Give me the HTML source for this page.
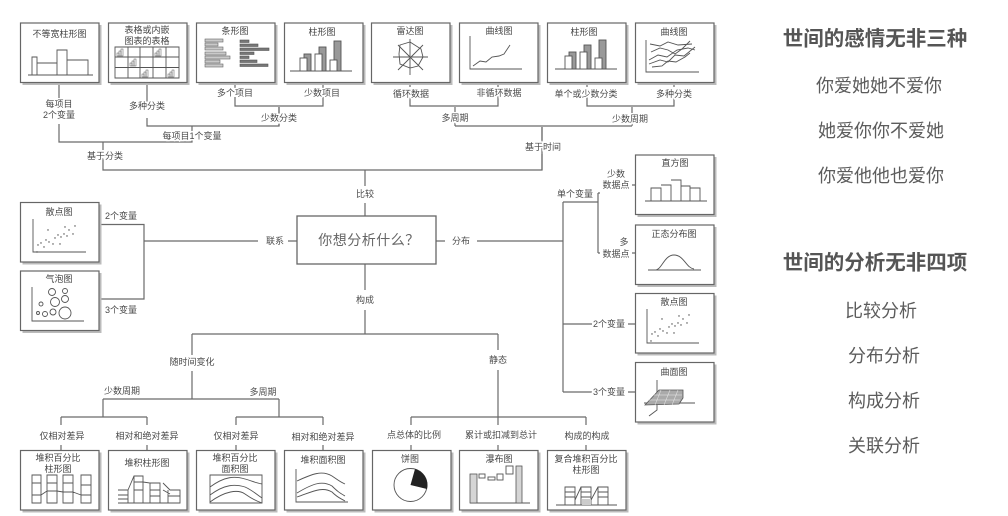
<!DOCTYPE html>
<html lang="zh"><head><meta charset="utf-8"><title>图表选择</title>
<style>
html,body{margin:0;padding:0;background:#fff;width:1008px;height:516px;overflow:hidden}
svg{display:block;position:absolute;left:0;top:0;filter:blur(.3px)}
text{font-family:"Liberation Sans","Noto Sans CJK SC",sans-serif;text-anchor:middle;dominant-baseline:central;fill:#555}
.l{font-size:9px;fill:#4a4a4a;paint-order:stroke;stroke:#fff;stroke-width:3px}
.t{font-size:9px;fill:#444}
.c{fill:none;stroke:#6a6a6a;stroke-width:1.2}
.b{fill:#fff;stroke:#666;stroke-width:1.2}
.s{fill:#bbb}
.i{fill:none;stroke:#555;stroke-width:.9}
.m{fill:none;stroke:#555;stroke-width:.5}
.w{fill:#fff;stroke:#555;stroke-width:.9}
.d{fill:#999;stroke:#555;stroke-width:.9}
.h{font-size:20.500px;font-weight:700;fill:#555}
.r{font-size:18px;fill:#5c5c5c}
</style></head><body>
<svg width="1008" height="516" viewBox="0 0 1008 516" xmlns="http://www.w3.org/2000/svg">
<defs>
<g id="box"><rect x="2.500" y="2.500" width="79" height="60" class="s"/><rect x="0.500" y="0.500" width="78.500" height="59.500" class="b"/></g>
<g id="sc" fill="#444"><circle cx="3" cy="28" r=".7"/><circle cx="4" cy="21" r=".7"/><circle cx="7" cy="19" r=".7"/><circle cx="10" cy="23" r=".7"/><circle cx="12" cy="16" r=".7"/><circle cx="14" cy="6" r=".7"/><circle cx="15" cy="18" r=".7"/><circle cx="19" cy="20" r=".7"/><circle cx="21" cy="14" r=".7"/><circle cx="24" cy="11" r=".7"/><circle cx="26" cy="20" r=".7"/><circle cx="27" cy="13" r=".7"/><circle cx="30" cy="10" r=".7"/><circle cx="31" cy="3" r=".7"/><circle cx="33" cy="12" r=".7"/><circle cx="35" cy="6" r=".7"/><circle cx="39" cy="10" r=".7"/><circle cx="41" cy="2" r=".7"/></g>
<g id="mini"><rect x="0" y="4" width="2" height="3" class="m"/><rect x="2" y="2" width="2" height="5" class="m"/><rect x="4" y="0" width="2" height="7" class="m"/></g>
</defs>

<!-- connectors -->
<g class="c">
<path d="M59 82V100M59 124V142H192V126M147 82V105M147 118V126H279V107M235 82V88M235 97V106H323V97M323 88V82"/>
<path d="M103 142V150M103 158V170H542V127M455 126H632M455 126V107M410 82V87M410 96V106H498V96M498 87V82M632 126V107M587 82V87M587 96V106H674V96M674 87V82M279 126V107"/>
<path d="M542 127V140M542 154V170M365 170V186M365 203V216"/>
<path d="M99 224.500H144V299H99M144 241H258M288 241H297"/>
<path d="M436 241H445M477 241H563M563 202V392M563 202H598M598 193V253M598 193H600M598 253H600M563 324H592M628 324H635M563 392H592M628 392H635M632 185H635M632 253H635"/>
<path d="M365 264V290M365 310V334M192 334H498M192 334V355M192 371V399M103 399H279M103 399V417M61 417H147M61 417V425M147 417V425M279 399V417M236 417H323M236 417V425M323 417V425"/>
<path d="M498 334V350M498 370V417M411 417H586M411 417V425M586 417V425M498 417V425M61 445V450M147 445V450M236 445V450M323 445V450M411 445V450M498 445V450M586 445V450"/>
</g>

<!-- boxes -->
<use href="#box" x="20" y="22.500"/><use href="#box" x="108" y="22.500"/><use href="#box" x="196" y="22.500"/><use href="#box" x="284" y="22.500"/>
<use href="#box" x="371" y="22.500"/><use href="#box" x="459" y="22.500"/><use href="#box" x="547" y="22.500"/><use href="#box" x="635" y="22.500"/>
<use href="#box" x="635" y="154.500"/><use href="#box" x="635" y="224.500"/><use href="#box" x="635" y="293"/><use href="#box" x="635" y="362"/>
<use href="#box" x="20" y="202"/><use href="#box" x="20" y="270.500"/>
<use href="#box" x="20" y="450"/><use href="#box" x="108" y="450"/><use href="#box" x="196" y="450"/><use href="#box" x="284" y="450"/><use href="#box" x="372" y="450"/><use href="#box" x="459" y="450"/><use href="#box" x="547" y="450"/>
<rect x="297" y="216" width="139" height="48" fill="#fff" stroke="#666" stroke-width="1.300"/>

<!-- box1 -->
<g class="i"><path d="M28 75H93M32 75V57H37V75M37 63H57M57 75V50H67V75M67 60H88V75"/></g>
<!-- box2 -->
<g class="i"><path d="M115 47H179V78H115ZM115 57H179M115 67.500H179M128 47V78M140 47V78M153 47V78M166 47V78"/></g>
<use href="#mini" x="117" y="49"/><use href="#mini" x="155" y="49"/><use href="#mini" x="130" y="59"/><use href="#mini" x="142" y="70"/><use href="#mini" x="168" y="70"/>
<!-- box3 -->
<g fill="#c9c9c9" stroke="#666" stroke-width=".6"><rect x="205" y="39" width="18" height="3"/><rect x="205" y="43" width="13" height="3"/><rect x="205" y="47" width="18" height="3"/><rect x="205" y="52" width="21" height="3"/><rect x="205" y="56" width="25" height="3"/><rect x="205" y="60" width="15" height="3"/><rect x="205" y="64" width="18" height="3"/></g>
<g fill="#777" stroke="#555" stroke-width=".6"><rect x="240" y="40" width="9" height="2.500"/><rect x="240" y="44" width="18" height="2.500"/><rect x="240" y="48" width="29" height="2.500"/><rect x="240" y="52" width="14" height="2.500"/><rect x="240" y="56" width="9" height="2.500"/><rect x="240" y="60" width="17" height="2.500"/><rect x="240" y="64" width="28" height="2.500"/></g>
<!-- box4 -->
<path class="i" d="M290 71H352"/><rect x="304" y="54" width="7" height="17" class="d"/><rect x="300" y="58" width="7" height="13" class="w"/><rect x="319" y="47" width="7" height="24" class="d"/><rect x="315" y="54" width="7" height="17" class="w"/><rect x="334" y="41" width="7" height="30" class="d"/><rect x="330" y="60" width="7" height="11" class="w"/>
<!-- radar -->
<g class="i"><path d="M393 57H428M410 39V75M398 45L423 70M398 70L423 45M400 45L410 42L421 49L423 57L418 66L410 68L400 64L399 54Z"/></g>
<!-- line -->
<g class="i"><path d="M470 36V69H522"/><path d="M473 66L480 61L486 62L492 57L499 56L504 54L510 45"/></g>
<!-- box7 -->
<path class="i" d="M555 69H617"/><rect x="569" y="52" width="7" height="17" class="d"/><rect x="565" y="56" width="7" height="13" class="w"/><rect x="584" y="45" width="7" height="24" class="d"/><rect x="580" y="52" width="7" height="17" class="w"/><rect x="599" y="40" width="7" height="29" class="d"/><rect x="595" y="58" width="7" height="11" class="w"/>
<!-- box8 -->
<g class="i"><path d="M646 40V72H699"/><path d="M650 44L660 46L668 42L678 45L692 44"/><path d="M651 52L660 48L668 50L675 54L682 49L690 41"/><path d="M649 60L658 55L667 57L677 50L688 48L695 50"/><path d="M649 64L660 60L668 62L675 55L684 56L695 47"/><path d="M652 67L662 66L668 61L676 62L685 57L690 53"/></g>

<!-- histogram -->
<g class="i"><path d="M645 201H707M651 201V188H661V201M661 185H671V201M671 180H681V201M681 186H690V201M690 188H700V201"/></g>
<!-- normal -->
<g class="i"><path d="M648 270H701"/><path d="M655 270C662 270 664 255 674 255C684 255 686 268 694 269"/></g>
<!-- scatter R -->
<path class="i" d="M647 309V343H699"/><use href="#sc" x="648" y="313"/>
<!-- surface -->
<g class="i"><path d="M657 380V410L649 416M644 403H695"/></g>
<path d="M645 405L659 390H683V398L679 404Z" fill="#aaa" stroke="#555" stroke-width=".8"/>
<path d="M648 400H680M653 395H682M661 390L655 405M670 390L664 405M678 390L672 405" stroke="#eee" stroke-width=".5" fill="none"/>

<!-- scatter L -->
<path class="i" d="M33 219V252H86"/><use href="#sc" x="34" y="224"/>
<!-- bubble -->
<g class="i"><path d="M32 287V321H84"/><circle cx="52" cy="292" r="3.500"/><circle cx="65" cy="291" r="2.500"/><circle cx="55" cy="302" r="4.500"/><circle cx="65" cy="299" r="3.500"/><circle cx="41" cy="304" r="2"/><circle cx="38" cy="313" r="1.500"/><circle cx="45" cy="314" r="2.500"/><circle cx="53" cy="312" r="3"/><circle cx="65" cy="313" r="6"/></g>

<!-- bottom 1 -->
<g class="i"><path d="M32 475H41V503H32ZM47 475H57V503H47ZM63 475H73V503H63ZM81 475H91V503H81ZM32 483H41M47 483H57M63 483H73M81 485H91M32 495H41M47 491H57M63 492H73M81 495H91M41 495L47 491M57 491L63 492M73 492L81 495"/></g>
<!-- bottom 2 -->
<g class="i"><path d="M118 503H180M118 490H128V503M118 495H128M118 499H128M128 490L134 476H143V503H134V476M134 490H143M134 482H143M143 482L150 483V503H160V483H150M150 490H160M150 496H160M163 483L170 490H180V503H168V490M168 496H180M163 490L170 494"/></g>
<!-- bottom 3 -->
<g class="i"><path d="M210 475H262V503H210ZM210 487C225 476 235 476 245 479C252 481 256 483 262 484M210 495C225 484 235 484 245 487C252 490 256 494 262 498M210 502C225 491 238 489 245 494C252 499 256 501 262 503"/></g>
<!-- bottom 4 -->
<g class="i"><path d="M296 469V502H348M297 481C312 474 322 470 332 476C338 480 340 482 345 484M297 493C312 484 322 480 332 486C338 492 340 493 345 496M297 497C312 492 322 486 332 492C338 498 340 498 345 501"/></g>
<!-- pie -->
<circle cx="410.500" cy="485" r="16.500" fill="#fff" stroke="#555" stroke-width=".9"/>
<path d="M410.500 485L415 469A16.500 16.500 0 0 1 427 489Z" fill="#222"/>
<!-- waterfall -->
<g class="i"><path d="M470 503H530"/></g>
<rect x="470" y="474" width="7" height="29" fill="#d5d5d5" stroke="#555" stroke-width=".8"/>
<rect x="479" y="474" width="6" height="4" class="w"/><rect x="488" y="477" width="7" height="3" class="w"/><rect x="497" y="474" width="6" height="6" class="w"/><rect x="506" y="466" width="7" height="8" class="w"/><rect x="516" y="466" width="6" height="37" fill="#d5d5d5" stroke="#555" stroke-width=".8"/>
<!-- compound -->
<g class="i"><path d="M556 505H617M565 487H575V505H565ZM565 492H575M565 497H575M581 487H591V505H581ZM581 492H591M581 497H591M598 487H608V505H598ZM598 492H608M598 497H608M575 500L581 487M591 500L598 487"/></g>
<rect x="582" y="499" width="9" height="6" fill="#ccc"/>

<!-- box titles -->
<text class="t" x="59.500" y="34">不等宽柱形图</text>
<text class="t" x="147" y="30">表格或内嵌</text><text class="t" x="147" y="41">图表的表格</text>
<text class="t" x="235" y="31">条形图</text>
<text class="t" x="322" y="32">柱形图</text>
<text class="t" x="410" y="31">雷达图</text>
<text class="t" x="499" y="31">曲线图</text>
<text class="t" x="584" y="32">柱形图</text>
<text class="t" x="674" y="32">曲线图</text>
<text class="t" x="675" y="163">直方图</text>
<text class="t" x="674" y="234">正态分布图</text>
<text class="t" x="674" y="302">散点图</text>
<text class="t" x="674" y="372">曲面图</text>
<text class="t" x="59" y="212">散点图</text>
<text class="t" x="59" y="279">气泡图</text>
<text class="t" x="58" y="458">堆积百分比</text><text class="t" x="58" y="469">柱形图</text>
<text class="t" x="147" y="463">堆积柱形图</text>
<text class="t" x="235" y="458">堆积百分比</text><text class="t" x="235" y="469">面积图</text>
<text class="t" x="323" y="460">堆积面积图</text>
<text class="t" x="410" y="459">饼图</text>
<text class="t" x="499" y="459">瀑布图</text>
<text class="t" x="586" y="459">复合堆积百分比</text><text class="t" x="586" y="470">柱形图</text>

<!-- labels -->
<text class="l" x="59" y="104">每项目</text><text class="l" x="59" y="115">2个变量</text>
<text class="l" x="147" y="106">多种分类</text>
<text class="l" x="235" y="93">多个项目</text>
<text class="l" x="322" y="93">少数项目</text>
<text class="l" x="279" y="118">少数分类</text>
<text class="l" x="192" y="136">每项目1个变量</text>
<text class="l" x="105" y="156">基于分类</text>
<text class="l" x="411" y="94">循环数据</text>
<text class="l" x="499" y="93">非循环数据</text>
<text class="l" x="586" y="94">单个或少数分类</text>
<text class="l" x="674" y="94">多种分类</text>
<text class="l" x="455" y="118">多周期</text>
<text class="l" x="630" y="119">少数周期</text>
<text class="l" x="543" y="147">基于时间</text>
<text class="l" x="121" y="216">2个变量</text>
<text class="l" x="121" y="310">3个变量</text>
<text class="l" x="275" y="241">联系</text>
<text class="l" x="365" y="194">比较</text>
<text class="l" x="365" y="300">构成</text>
<text class="l" x="461" y="241">分布</text>
<text class="l" x="575" y="194">单个变量</text>
<text class="l" x="616" y="174">少数</text><text class="l" x="616" y="185">数据点</text>
<text class="l" x="624" y="242">多</text><text class="l" x="616" y="254">数据点</text>
<text class="l" x="609" y="324">2个变量</text>
<text class="l" x="609" y="392">3个变量</text>
<text class="l" x="192" y="362">随时间变化</text>
<text class="l" x="122" y="391">少数周期</text>
<text class="l" x="263" y="392">多周期</text>
<text class="l" x="498" y="360">静态</text>
<text class="l" x="62" y="436">仅相对差异</text>
<text class="l" x="147" y="436">相对和绝对差异</text>
<text class="l" x="236" y="436">仅相对差异</text>
<text class="l" x="323" y="437">相对和绝对差异</text>
<text class="l" x="414" y="435">点总体的比例</text>
<text class="l" x="501" y="435">累计或扣减到总计</text>
<text class="l" x="587" y="436">构成的构成</text>
<text x="369" y="240" font-size="14" letter-spacing=".5" style="fill:#666">你想分析什么？</text>

<!-- right text -->
<text class="h" x="875" y="39">世间的感情无非三种</text>
<text class="r" x="879" y="86">你爱她她不爱你</text>
<text class="r" x="881" y="131">她爱你你不爱她</text>
<text class="r" x="881" y="176">你爱他他也爱你</text>
<text class="h" x="875" y="263">世间的分析无非四项</text>
<text class="r" x="881" y="311">比较分析</text>
<text class="r" x="884" y="356">分布分析</text>
<text class="r" x="884" y="401">构成分析</text>
<text class="r" x="884" y="446">关联分析</text>
</svg>
</body></html>
